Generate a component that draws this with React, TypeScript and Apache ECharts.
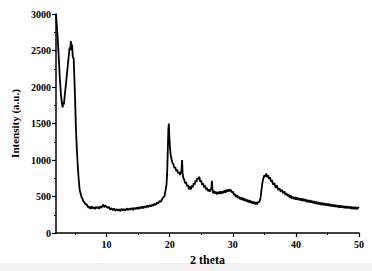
import React, { useEffect, useRef } from "react";
import * as echarts from "echarts";

// 2θ (deg), intensity (a.u.) pairs
const lowAngle: [number, number][] = [
  [2.0, 3000], [2.2, 2760], [2.4, 2470], [2.6, 2130], [2.8, 1880], [2.95, 1770], [3.05, 1720],
  [3.15, 1790], [3.25, 1760], [3.4, 1900], [3.6, 2060], [3.8, 2240], [4.0, 2410], [4.15, 2540],
  [4.25, 2500], [4.35, 2630], [4.45, 2510], [4.55, 2580], [4.65, 2420], [4.8, 2390], [4.9, 2150],
  [5.0, 1900], [5.15, 1450], [5.3, 1150], [5.45, 920], [5.6, 730], [5.75, 590], [5.9, 540],
  [6.05, 490], [6.2, 470], [6.35, 430], [6.5, 425], [6.65, 390], [6.8, 395],
];

const baseline: [number, number][] = [
  [7.0, 372], [7.15, 345], [7.3, 360], [7.5, 330], [7.65, 366], [7.8, 338], [8.0, 352], [8.15, 326],
  [8.3, 360], [8.5, 340], [8.65, 356], [8.8, 332], [9.0, 364], [9.2, 345], [9.35, 372], [9.5, 390],
  [9.65, 352], [9.8, 380], [10.0, 360], [10.2, 344], [10.4, 356], [10.6, 320], [10.8, 340], [11.0, 312],
  [11.2, 336], [11.4, 304], [11.6, 328], [11.8, 306], [12.0, 324], [12.2, 300], [12.4, 332], [12.6, 310],
  [12.8, 326], [13.0, 306], [13.2, 338], [13.4, 314], [13.6, 336], [13.8, 318], [14.0, 344], [14.2, 316],
  [14.4, 346], [14.6, 326], [14.8, 350], [15.0, 330], [15.2, 356], [15.4, 334], [15.6, 362], [15.8, 340],
  [16.0, 366], [16.2, 346], [16.4, 376], [16.6, 352], [16.8, 380], [17.0, 364], [17.2, 388], [17.4, 372],
  [17.6, 400], [17.8, 384], [18.0, 420], [18.2, 402], [18.4, 440], [18.6, 428], [18.8, 462], [19.0, 490],
  [19.2, 505],
];

const midPeaks: [number, number][] = [
  [19.35, 580], [19.5, 660], [19.6, 800], [19.7, 1100], [19.8, 1420], [19.87, 1500], [19.95, 1330],
  [20.05, 1180], [20.15, 1080], [20.3, 1010], [20.45, 960], [20.6, 940], [20.75, 890], [20.9, 900],
  [21.05, 850], [21.2, 865], [21.35, 820], [21.5, 835], [21.65, 795], [21.8, 830], [21.9, 880],
  [21.97, 1000], [22.05, 830], [22.15, 760], [22.3, 735], [22.45, 680], [22.6, 700], [22.75, 640],
  [22.9, 660], [23.05, 600], [23.2, 635], [23.35, 595], [23.5, 650], [23.65, 625], [23.8, 680],
  [23.95, 660], [24.1, 720], [24.25, 700], [24.4, 755], [24.55, 735], [24.7, 770], [24.85, 705],
  [25.0, 715], [25.15, 660], [25.3, 680], [25.45, 625], [25.6, 650], [25.75, 600], [25.9, 620],
  [26.05, 575], [26.2, 600], [26.35, 565], [26.5, 595], [26.62, 620], [26.7, 715], [26.78, 600],
  [26.9, 545], [27.05, 575], [27.2, 540], [27.35, 565], [27.5, 530], [27.7, 562], [27.85, 535],
  [28.0, 570], [28.2, 538], [28.35, 572], [28.5, 548], [28.7, 585], [28.85, 552], [29.0, 592],
  [29.2, 565], [29.35, 600], [29.5, 575], [29.7, 590], [29.85, 555], [30.0, 570], [30.2, 520],
  [30.35, 535], [30.5, 495], [30.7, 515], [30.85, 478], [31.0, 500], [31.2, 462], [31.35, 488],
  [31.5, 452], [31.7, 478], [31.85, 440], [32.0, 468], [32.2, 432], [32.35, 455], [32.5, 420],
  [32.7, 448], [32.85, 410], [33.0, 438], [33.2, 402], [33.35, 430], [33.5, 395], [33.7, 422],
  [33.85, 390], [34.0, 425], [34.2, 420],
];

const highAngle: [number, number][] = [
  [34.4, 480], [34.55, 590], [34.7, 690], [34.85, 745], [35.0, 790], [35.15, 770], [35.3, 815],
  [35.45, 765], [35.6, 790], [35.75, 740], [35.9, 765], [36.05, 705], [36.2, 725], [36.4, 660],
  [36.6, 685], [36.8, 620], [37.0, 650], [37.2, 590], [37.4, 612], [37.6, 565], [37.8, 590],
  [38.0, 545], [38.2, 570], [38.35, 522], [38.5, 545], [38.7, 505], [38.85, 528], [39.0, 488],
  [39.2, 512], [39.35, 472], [39.5, 498], [39.7, 465], [39.85, 492], [40.0, 458], [40.2, 486],
  [40.35, 452], [40.5, 478], [40.7, 448], [40.85, 474], [41.0, 440], [41.2, 468], [41.35, 436],
  [41.5, 462], [41.7, 428], [41.85, 455], [42.0, 422], [42.2, 450], [42.35, 416], [42.5, 442],
  [42.7, 408], [42.85, 436], [43.0, 402], [43.2, 430], [43.35, 396], [43.5, 424], [43.7, 392],
  [43.85, 418], [44.0, 386], [44.2, 414], [44.35, 382], [44.5, 410], [44.7, 378], [44.85, 404],
  [45.0, 374], [45.2, 400], [45.35, 368], [45.5, 396], [45.7, 364], [45.85, 390], [46.0, 360],
  [46.2, 386], [46.35, 356], [46.5, 382], [46.7, 352], [46.85, 378], [47.0, 348], [47.2, 376],
  [47.35, 346], [47.5, 372], [47.7, 342], [47.85, 368], [48.0, 340], [48.2, 366], [48.35, 336],
  [48.5, 362], [48.7, 332], [48.85, 360], [49.0, 330], [49.2, 358], [49.35, 328], [49.5, 355],
  [49.7, 326], [49.85, 352], [50.0, 340],
];

const xTickLabels = [10, 20, 30, 40, 50];
const xMinorTicks = [5, 15, 25, 35, 45];
const xAxisTitle = "2 theta";
const yAxisTitle = "Intensity (a.u.)";

const FONT = "'Liberation Serif', 'Times New Roman', serif";

export default function App() {
  const ref = useRef<HTMLDivElement>(null);
  useEffect(() => {
    if (!ref.current) return;
    const chart = echarts.init(ref.current, undefined, { renderer: "svg" });
    const data = [...lowAngle, ...baseline, ...midPeaks, ...highAngle];
    chart.setOption({
      animation: false,
      backgroundColor: "#ffffff",
      grid: { left: 56, right: 13, top: 14, bottom: 38 },
      graphic: [
        { type: "rect", left: 0, bottom: 0, shape: { width: 372, height: 8 }, style: { fill: "#f1f1f1" }, z: -1 },
      ],
      xAxis: [
        {
          type: "value",
          min: 2,
          max: 50,
          name: xAxisTitle,
          nameLocation: "middle",
          nameGap: 19,
          nameTextStyle: { fontFamily: FONT, fontWeight: "bold", fontSize: 12, color: "#000" },
          axisLine: { show: true, onZero: false, lineStyle: { color: "#000", width: 1.5 } },
          axisTick: { show: true, length: 4, customValues: xTickLabels, lineStyle: { color: "#000", width: 1.2 } },
          axisLabel: { customValues: xTickLabels, fontFamily: FONT, fontWeight: "bold", fontSize: 10, color: "#000", margin: 6 },
          splitLine: { show: false },
        },
        {
          type: "value",
          min: 2,
          max: 50,
          position: "bottom",
          axisLine: { show: false },
          axisTick: { show: true, length: 2, customValues: xMinorTicks, lineStyle: { color: "#000", width: 1 } },
          axisLabel: { show: false },
          splitLine: { show: false },
        },
      ],
      yAxis: {
        type: "value",
        min: 0,
        max: 3000,
        interval: 500,
        name: yAxisTitle,
        nameLocation: "middle",
        nameGap: 32,
        nameTextStyle: { fontFamily: FONT, fontWeight: "bold", fontSize: 11, color: "#000" },
        axisLine: { show: true, lineStyle: { color: "#000", width: 1.5 } },
        axisTick: { show: true, length: 4, lineStyle: { color: "#000", width: 1.2 } },
        minorTick: { show: true, splitNumber: 2, length: 2, lineStyle: { color: "#000", width: 1 } },
        axisLabel: {
          fontFamily: FONT,
          fontWeight: "bold",
          fontSize: 10,
          color: "#000",
          margin: 5,
          formatter: (v: number) => String(v),
        },
        splitLine: { show: false },
      },
      series: [
        {
          type: "line",
          data,
          showSymbol: false,
          symbol: "none",
          lineStyle: { color: "#000", width: 1.8 },
        },
      ],
    });
    return () => chart.dispose();
  }, []);
  return <div ref={ref} style={{ width: 372, height: 271, position: "absolute", left: 0, top: 0 }} />;
}
